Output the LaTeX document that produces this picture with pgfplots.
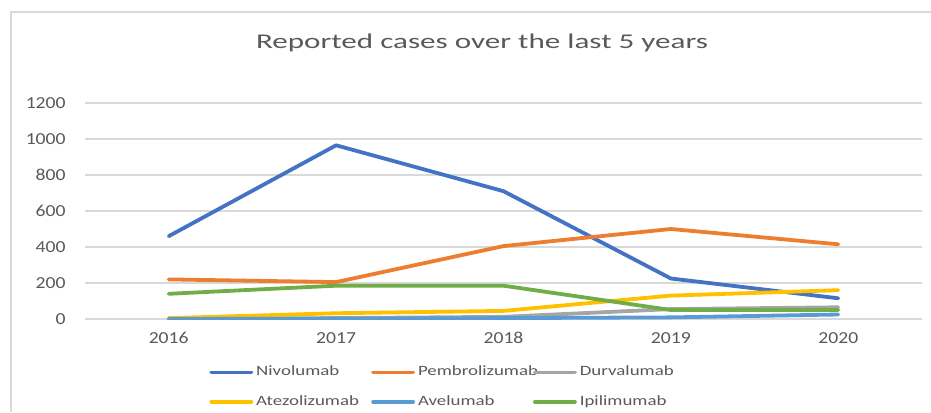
\documentclass[border=0pt]{standalone}
\usepackage{pgfplots}
\pgfplotsset{compat=1.18}
\usepackage{fontspec}
\setmainfont{Carlito}
\newfontfamily\titlefont[FakeStretch=1.48]{Carlito}
\newfontfamily\tickfont[FakeStretch=1.17]{Carlito}
\newfontfamily\legfont[FakeStretch=1.33]{Carlito}
\definecolor{txt}{HTML}{595959}
\definecolor{gridc}{HTML}{D9D9D9}
\definecolor{cNiv}{HTML}{4472C4}
\definecolor{cPem}{HTML}{ED7D31}
\definecolor{cDur}{HTML}{A5A5A5}
\definecolor{cAte}{HTML}{FFC000}
\definecolor{cAve}{HTML}{5B9BD5}
\definecolor{cIpi}{HTML}{70AD47}
\newcommand{\lb}[1]{\makebox[57.5pt][l]{#1}}
\begin{document}
\begin{tikzpicture}
\path[use as bounding box] (0,0) rectangle (465.5pt,206pt);
\draw[gridc, line width=0.75pt] (5.5pt,0) -- (5.5pt,200pt) -- (465.5pt,200pt);
\node[anchor=base, text=txt, font=\titlefont\fontsize{10.5}{12}\selectfont, inner sep=0pt] at (241pt,181.85pt) {Reported cases over the last 5 years};
\begin{axis}[
  at={(42.5pt,46.5pt)}, anchor=south west,
  scale only axis, width=418.5pt, height=108pt,
  xmin=2015.5, xmax=2020.5, ymin=0, ymax=1200,
  xtick={2016,2017,2018,2019,2020},
  ytick={0,200,400,600,800,1000,1200},
  axis line style={draw=none},
  major tick length=0pt,
  ymajorgrids, grid style={gridc, line width=0.6pt},
  /pgf/number format/assume math mode=true,
  /pgf/number format/1000 sep={},
  tick label style={text=txt, font=\tickfont\fontsize{8.4}{10}\selectfont, inner sep=0pt},
  yticklabel style={anchor=east, xshift=-9.5pt},
  xticklabel style={anchor=north, yshift=-6.5pt},
  legend columns=3,
  legend image code/.code={\draw[#1] (0pt,0pt) -- (20pt,0pt);},
  legend style={draw=none, fill=none, at={(0.141,-0.197)}, anchor=north west,
    font=\legfont\fontsize{7.1}{8}\selectfont, text=txt,
    nodes={inner sep=0pt, text height=5pt, text depth=1.5pt},
    column sep=0pt, row sep=8.2pt,
    /tikz/every odd column/.append style={column sep=1.5pt}},
  legend cell align=left,
  every axis plot/.append style={line width=1.9pt, line join=round, line cap=round},
]
\addplot[cNiv] coordinates {(2016,460) (2017,965) (2018,710) (2019,225) (2020,115)};
\addplot[cPem] coordinates {(2016,220) (2017,205) (2018,405) (2019,500) (2020,415)};
\addplot[cDur] coordinates {(2016,2) (2017,5) (2018,12) (2019,55) (2020,65)};
\addplot[cAte] coordinates {(2016,5) (2017,32) (2018,45) (2019,130) (2020,160)};
\addplot[cAve] coordinates {(2016,0) (2017,2) (2018,5) (2019,9) (2020,25)};
\addplot[cIpi] coordinates {(2016,140) (2017,185) (2018,185) (2019,50) (2020,50)};
\legend{\lb{Nivolumab},\lb{Pembrolizumab},\lb{Durvalumab},\lb{Atezolizumab},\lb{Avelumab},\lb{Ipilimumab}}
\end{axis}
\end{tikzpicture}
\end{document}
